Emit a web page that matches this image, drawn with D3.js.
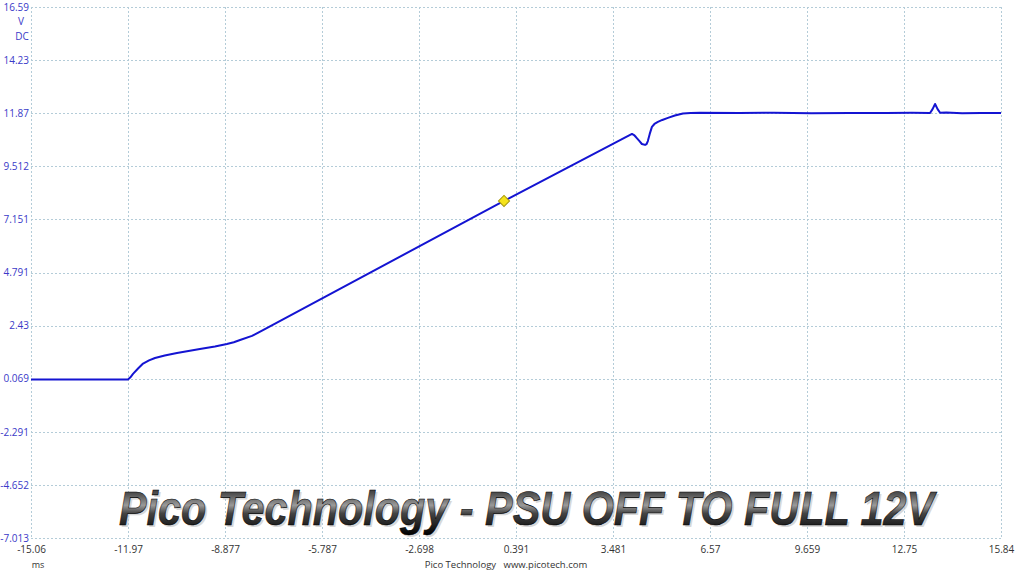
<!DOCTYPE html>
<html><head><meta charset="utf-8">
<script src="https://cdn.jsdelivr.net/npm/d3@7"></script>
<style>
html,body{margin:0;padding:0;background:#fff;}
svg{display:block;}
</style></head>
<body>
<svg id="chart" width="1015" height="571"></svg>
<script>
// ---- data ----
const xTickLabels = ["-15.06","-11.97","-8.877","-5.787","-2.698","0.391","3.481","6.57","9.659","12.75","15.84"];
const yTickLabels = ["16.59","14.23","11.87","9.512","7.151","4.791","2.43","0.069","-2.291","-4.652","-7.013"];
const timeMs = [-15.06,-13.5,-11.97,-11.90,-11.81,-11.65,-11.49,-11.30,-11.11,-10.80,-10.41,-9.68,-9.2,-8.82,-8.60,-8.40,-8.02,-7.67,0.008,4.085,4.15,4.21,4.31,4.40,4.50,4.55,4.59,4.65,4.72,4.80,4.91,5.05,5.23,5.45,5.71,5.95,6.25,7.5,8.6,9.8,11.0,12.2,13.0,13.58,13.66,13.74,13.82,13.90,14.1,14.6,15.2,15.84];
const voltsDC = [0.03,0.03,0.03,0.12,0.28,0.52,0.74,0.88,0.99,1.10,1.21,1.39,1.50,1.61,1.69,1.79,1.97,2.23,7.97,10.95,10.90,10.81,10.65,10.50,10.46,10.50,10.63,10.95,11.26,11.39,11.48,11.57,11.66,11.77,11.86,11.88,11.89,11.88,11.89,11.87,11.88,11.88,11.89,11.88,12.05,12.28,12.05,11.89,11.90,11.87,11.88,11.88];
const markerPoint = [{t:0.008, v:7.97}];
const titleText = "Pico Technology - PSU OFF TO FULL 12V";
const footerText = "Pico Technology   www.picotech.com";

// ---- layout ----
const svg = d3.select("#chart");
const L = 31, R = 1001, T = 7, B = 538;
const xMin = +xTickLabels[0], xMax = +xTickLabels[xTickLabels.length-1];
const yMin = +yTickLabels[yTickLabels.length-1], yMax = +yTickLabels[0];
const x = d3.scaleLinear().domain([xMin, xMax]).range([L, R]);
const y = d3.scaleLinear().domain([yMin, yMax]).range([B, T]);
const xTickVals = xTickLabels.map((d,i)=> xMin + i*(xMax-xMin)/(xTickLabels.length-1));
const yTickVals = yTickLabels.map((d,i)=> yMax - i*(yMax-yMin)/(yTickLabels.length-1));

const gridColor = "#b4ccd8";
// grid
const grid = svg.append("g");
grid.selectAll("line.v").data(xTickVals).join("line")
  .attr("x1", d=>Math.round(x(d))+0.5).attr("x2", d=>Math.round(x(d))+0.5)
  .attr("y1", T).attr("y2", B)
  .attr("stroke", gridColor).attr("stroke-width",1).attr("stroke-dasharray","2,2");
grid.selectAll("line.h").data(yTickVals).join("line")
  .attr("y1", d=>Math.round(y(d))+0.5).attr("y2", d=>Math.round(y(d))+0.5)
  .attr("x1", L).attr("x2", R)
  .attr("stroke", gridColor).attr("stroke-width",1).attr("stroke-dasharray","2,2");

// y axis labels
const yAxis = d3.axisLeft(y).tickValues(yTickVals).tickFormat((d,i)=>yTickLabels[i]).tickSize(0).tickPadding(2);
const gy = svg.append("g").attr("transform",`translate(${L},0)`).call(yAxis);
gy.select(".domain").remove();
gy.selectAll("text").attr("fill","#3a3ac8").attr("font-family","'Open Sans', 'Noto Sans', sans-serif").attr("font-size",10);

svg.append("text").attr("x",21).attr("y",25).attr("text-anchor","middle")
  .attr("fill","#3a3ac8").attr("font-family","'Open Sans', sans-serif").attr("font-size",10).text("V");
svg.append("text").attr("x",22).attr("y",40).attr("text-anchor","middle")
  .attr("fill","#3a3ac8").attr("font-family","'Open Sans', sans-serif").attr("font-size",10).text("DC");

// x axis labels
const xAxis = d3.axisBottom(x).tickValues(xTickVals).tickFormat((d,i)=>xTickLabels[i]).tickSize(0).tickPadding(8);
const gx = svg.append("g").attr("transform",`translate(0,${B})`).call(xAxis);
gx.select(".domain").remove();
gx.selectAll("text").attr("fill","#333").attr("font-family","'Open Sans', 'Noto Sans', sans-serif").attr("font-size",10);

svg.append("text").attr("x",38).attr("y",568).attr("text-anchor","middle")
  .attr("fill","#333").attr("font-family","'Open Sans', sans-serif").attr("font-size",9).text("ms");
svg.append("text").attr("x",506).attr("y",568).attr("text-anchor","middle")
  .attr("fill","#333").attr("font-family","'Open Sans', sans-serif").attr("font-size",9.5).style("white-space","pre").text(footerText);

// trace
const pts = timeMs.map((t,i)=>({t, v:voltsDC[i]}));
const line = d3.line().x(d=>x(d.t)).y(d=>y(d.v)).curve(d3.curveLinear);
svg.append("path").datum(pts).attr("d", line)
  .attr("fill","none").attr("stroke","#1414d2").attr("stroke-width",2).attr("stroke-linejoin","round");

// marker
svg.selectAll("path.mk").data(markerPoint).join("path")
  .attr("d", d3.symbol(d3.symbolSquare, 62)())
  .attr("transform", d=>`translate(${x(d.t)},${y(d.v)}) rotate(45)`)
  .attr("fill","#f5e31a").attr("stroke","#a89a10").attr("stroke-width",1);

// title with metallic gradient
const defs = svg.append("defs");
const grad = defs.append("linearGradient").attr("id","metal").attr("x1",0).attr("y1",0).attr("x2",0).attr("y2",1);
[[0,"#111"],[0.25,"#555"],[0.45,"#9a9a9a"],[0.6,"#444"],[1,"#000"]].forEach(s=>grad.append("stop").attr("offset",s[0]).attr("stop-color",s[1]));
const tf = "'Liberation Sans', Arial, sans-serif";
svg.append("text").attr("x",121).attr("y",527).attr("textLength",815).attr("lengthAdjust","spacingAndGlyphs")
  .attr("font-family",tf).attr("font-weight","bold").attr("font-style","italic")
  .attr("font-size",49).attr("fill","#c8c8c8").attr("opacity",0.7).text(titleText);
svg.append("text").attr("x",119).attr("y",525).attr("textLength",815).attr("lengthAdjust","spacingAndGlyphs")
  .attr("font-family",tf).attr("font-weight","bold").attr("font-style","italic")
  .attr("font-size",49).attr("fill","url(#metal)").attr("stroke","#000").attr("stroke-width",0.6).text(titleText);
</script>
</body></html>
